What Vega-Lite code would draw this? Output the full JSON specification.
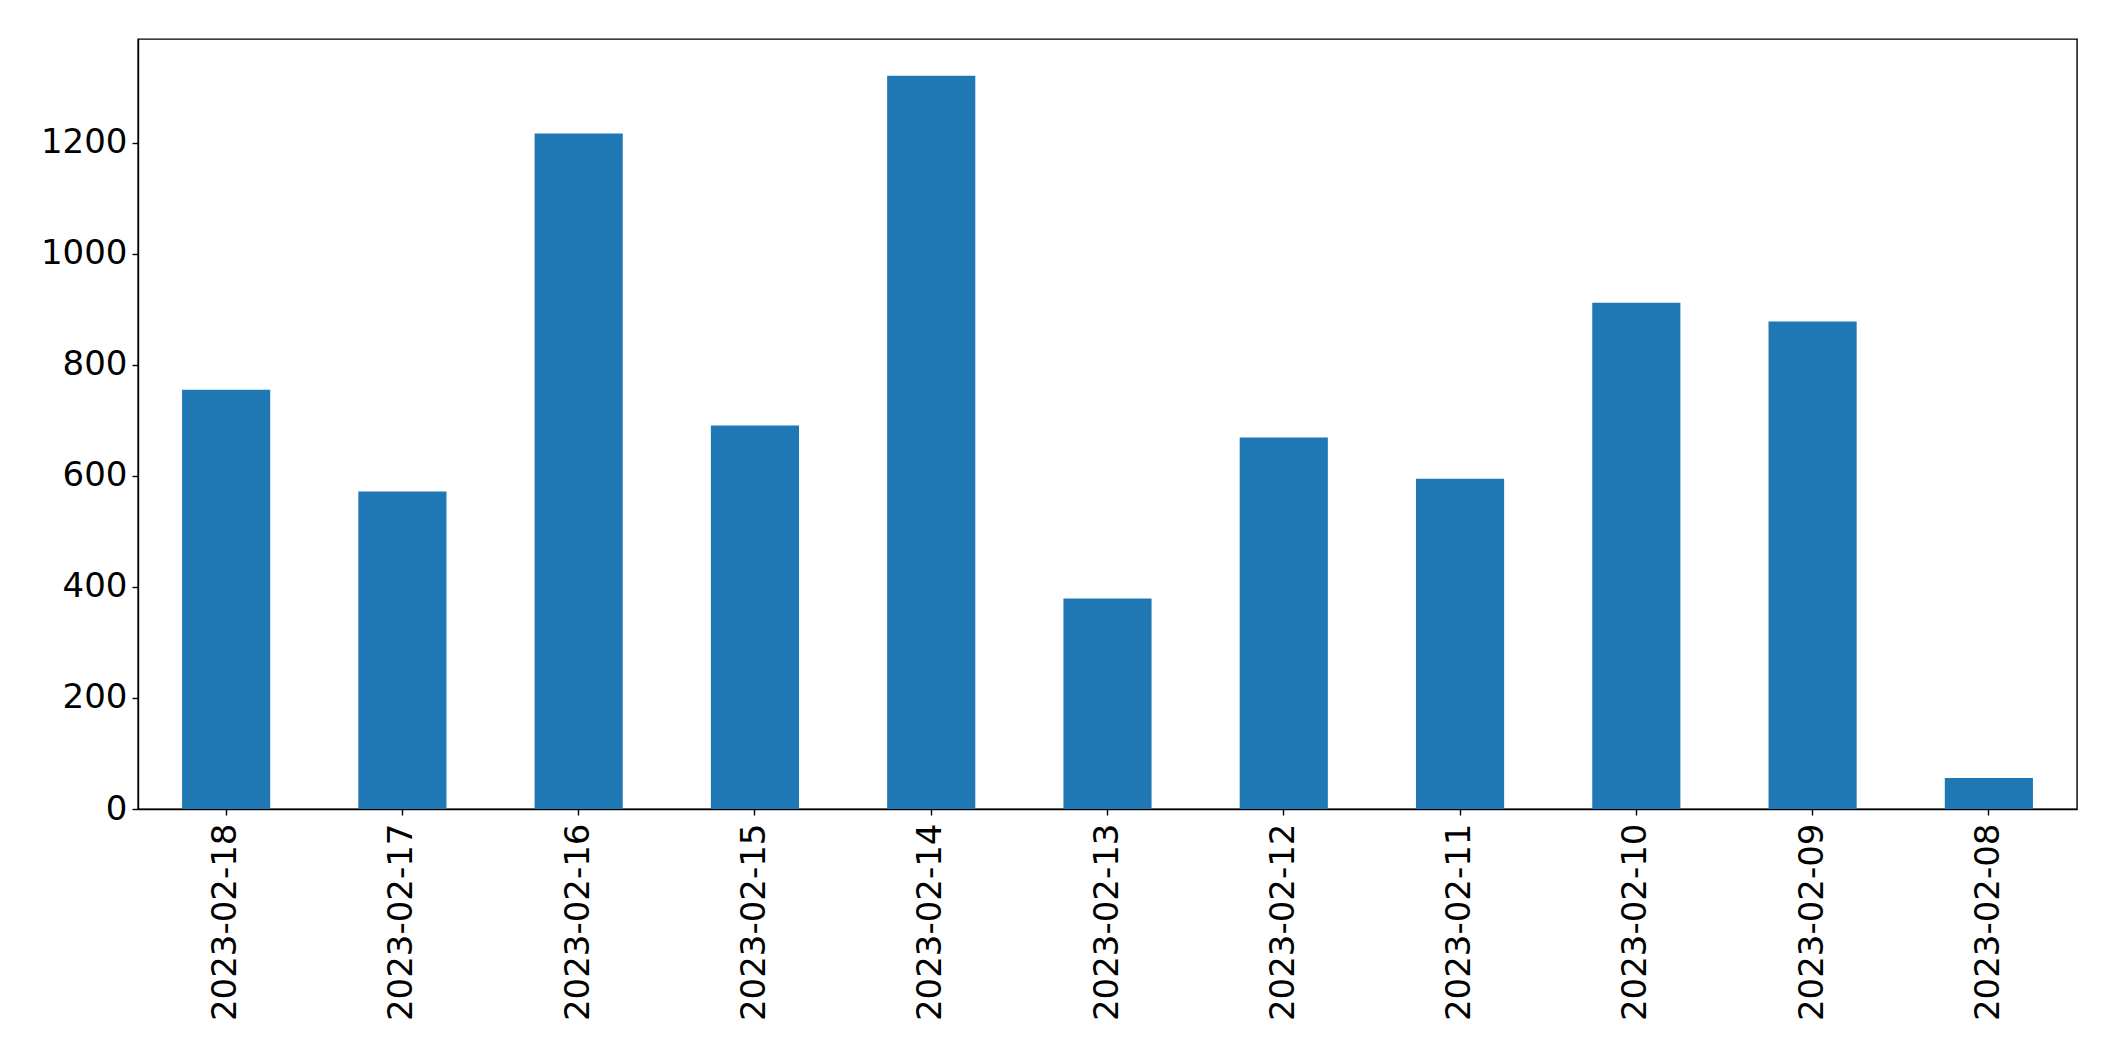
{
  "$schema": "https://vega.github.io/schema/vega-lite/v6.json",
  "autosize": {"type": "none"},
  "padding": {"left": 138, "top": 39, "right": 38, "bottom": 252},
  "width": 1939,
  "height": 770,
  "background": "white",
  "config": {
    "font": "DejaVu Sans",
    "view": {"stroke": "black", "strokeWidth": 1.4},
    "axis": {
      "grid": false,
      "domainColor": "black",
      "domainWidth": 1.4,
      "tickColor": "black",
      "tickWidth": 1.4,
      "tickSize": 6,
      "labelColor": "black",
      "labelFont": "DejaVu Sans",
      "labelFontSize": 34,
      "labelPadding": 5,
      "labelLimit": 0,
      "title": null
    }
  },
  "data": {
    "values": [
      {"date": "2023-02-18", "value": 755},
      {"date": "2023-02-17", "value": 572},
      {"date": "2023-02-16", "value": 1217},
      {"date": "2023-02-15", "value": 691},
      {"date": "2023-02-14", "value": 1321},
      {"date": "2023-02-13", "value": 379},
      {"date": "2023-02-12", "value": 669},
      {"date": "2023-02-11", "value": 595},
      {"date": "2023-02-10", "value": 912},
      {"date": "2023-02-09", "value": 878},
      {"date": "2023-02-08", "value": 56}
    ]
  },
  "mark": {"type": "bar", "color": "#1f77b4"},
  "encoding": {
    "x": {
      "field": "date",
      "type": "nominal",
      "sort": null,
      "scale": {"paddingInner": 0.5, "paddingOuter": 0.25},
      "axis": {"labelAngle": -90, "labelPadding": 8, "labelLimit": 0}
    },
    "y": {
      "field": "value",
      "type": "quantitative",
      "scale": {"domain": [0, 1387], "nice": false, "zero": true},
      "axis": {"values": [0, 200, 400, 600, 800, 1000, 1200], "format": "d"}
    }
  }
}
